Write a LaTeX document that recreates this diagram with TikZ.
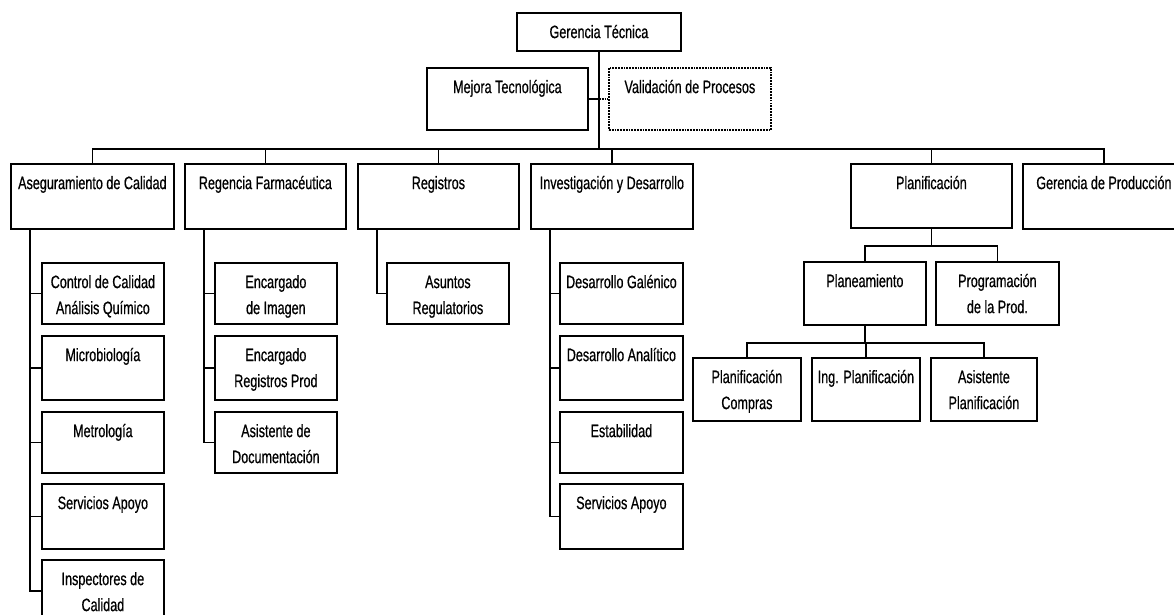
\documentclass[tikz,border=0pt]{standalone}
\usepackage{fontspec}
\setmainfont{Liberation Sans}[FakeStretch=0.7,FakeBold=0.6]
\newcommand{\orgtext}[3]{\parbox[c][#2pt][t]{#1pt}{\centering\vspace*{7pt}\fontsize{18}{26}\selectfont\strut #3}}

\begin{document}
\begin{tikzpicture}[x=1pt,y=-1pt,
    unit/.style={draw,line width=1.8pt,inner sep=0pt,anchor=north west},
    link/.style={line width=1.8pt}]
  \useasboundingbox (0,0) rectangle (1174,615);
  % top level
  \node[unit] (gt) at (516,12) {\orgtext{164}{38}{Gerencia Técnica}};
  \node[unit] (mt) at (426,67) {\orgtext{161}{62}{Mejora Tecnológica}};
  \node[unit,densely dotted] (vp) at (608,67) {\orgtext{162}{62}{Validación de Procesos}};
  % second level
  \node[unit] (ac) at (10,163) {\orgtext{163}{65}{Aseguramiento de Calidad}};
  \node[unit] (rf) at (184,163) {\orgtext{161}{65}{Regencia Farmacéutica}};
  \node[unit] (rg) at (357,163) {\orgtext{161}{65}{Registros}};
  \node[unit] (id) at (530,163) {\orgtext{162}{65}{Investigación y Desarrollo}};
  \node[unit] (pl) at (850,163) {\orgtext{161}{64}{Planificación}};
  \node[unit] (gp) at (1022,163) {\orgtext{162}{65}{Gerencia de Producción}};
  % Aseguramiento de Calidad
  \node[unit] (cc) at (41,262) {\orgtext{122}{61}{Control de Calidad\\Análisis Químico}};
  \node[unit] (mb) at (41,335) {\orgtext{122}{64}{Microbiología}};
  \node[unit] (me) at (41,411) {\orgtext{122}{61}{Metrología}};
  \node[unit] (sa) at (41,483) {\orgtext{122}{65}{Servicios Apoyo}};
  \node[unit] (ic) at (41,559) {\orgtext{122}{62}{Inspectores de\\Calidad}};
  % Regencia Farmaceutica
  \node[unit] (ei) at (214,262) {\orgtext{122}{61}{Encargado\\de Imagen}};
  \node[unit] (er) at (214,335) {\orgtext{122}{64}{Encargado\\Registros Prod}};
  \node[unit] (ad) at (214,411) {\orgtext{122}{61}{Asistente de\\Documentación}};
  % Registros
  \node[unit] (ar) at (386,262) {\orgtext{122}{61}{Asuntos\\Regulatorios}};
  % Investigacion y Desarrollo
  \node[unit] (dg) at (559,262) {\orgtext{123}{61}{Desarrollo Galénico}};
  \node[unit] (da) at (559,335) {\orgtext{123}{64}{Desarrollo Analítico}};
  \node[unit] (es) at (559,411) {\orgtext{123}{61}{Estabilidad}};
  \node[unit] (sb) at (559,483) {\orgtext{123}{65}{Servicios Apoyo}};
  % Planificacion
  \node[unit] (pn) at (803,261) {\orgtext{122}{63}{Planeamiento}};
  \node[unit] (pg) at (935,261) {\orgtext{123}{63}{Programación\\de la Prod.}};
  \node[unit] (pc) at (692,357) {\orgtext{108}{63}{Planificación\\Compras}};
  \node[unit] (ip) at (811,357) {\orgtext{108}{63}{Ing. Planificación}};
  \node[unit] (ap) at (930,357) {\orgtext{106}{63}{Asistente\\Planificación}};
  % connectors
  \draw[link] (mt.east) -- (mt.east -| gt.south);
  \draw[link,densely dotted] (mt.east -| gt.south) -- (vp.west);
  \foreach \n in {ac,rf,rg,id,pl,gp}
    \draw[link] (gt.south) -- ++(0,97) -| (\n.north);
  \foreach \n in {cc,mb,me,sa,ic}
    \draw[link] ([xshift=20pt]ac.south west) |- (\n.west);
  \foreach \n in {ei,er,ad}
    \draw[link] ([xshift=20pt]rf.south west) |- (\n.west);
  \draw[link] ([xshift=20pt]rg.south west) |- (ar.west);
  \foreach \n in {dg,da,es,sb}
    \draw[link] ([xshift=20pt]id.south west) |- (\n.west);
  \foreach \n in {pn,pg}
    \draw[link] (pl.south) -- ++(0,17) -| (\n.north);
  \foreach \n in {pc,ip,ap}
    \draw[link] (pn.south) -- ++(0,17) -| (\n.north);
\end{tikzpicture}
\end{document}
